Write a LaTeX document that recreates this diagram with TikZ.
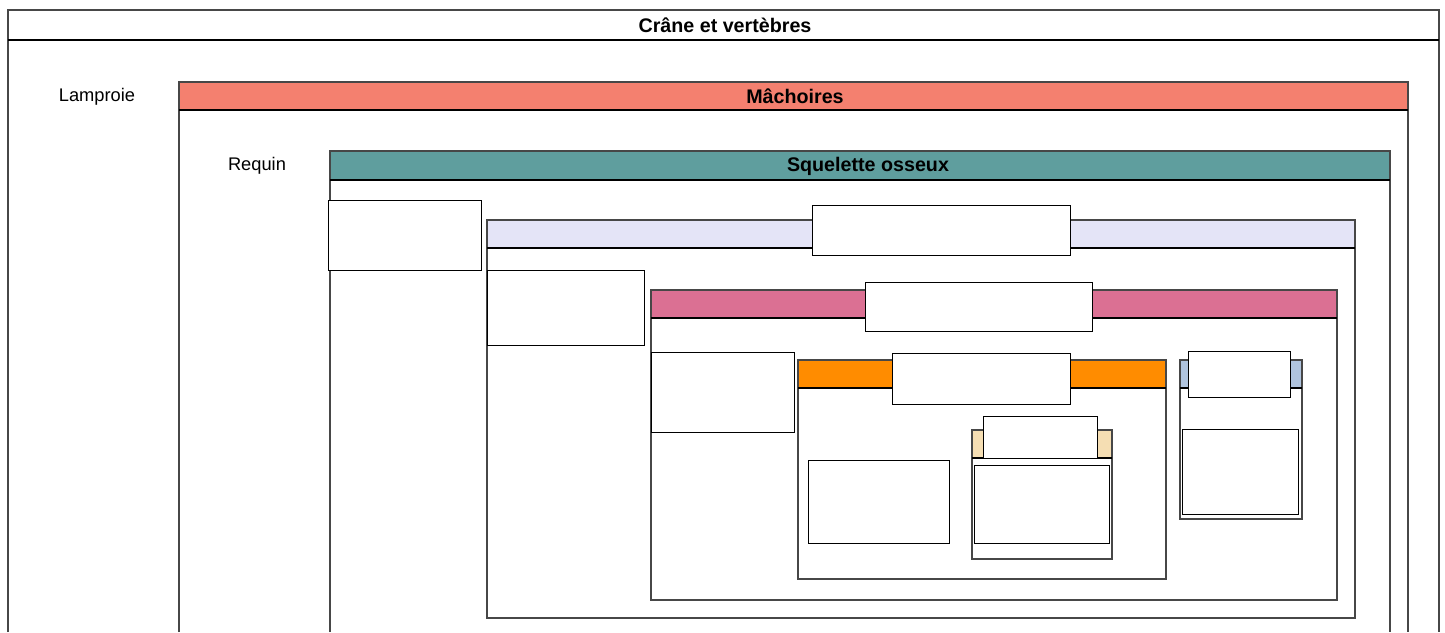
\documentclass[tikz,border=0pt]{standalone}
\usepackage{fontspec}
\setmainfont{Liberation Sans}
\usetikzlibrary{calc}
\definecolor{machoires}{HTML}{F4806F}
\definecolor{squelette}{HTML}{5F9E9E}
\definecolor{lavande}{HTML}{E4E4F7}
\definecolor{rose}{HTML}{DB7093}
\definecolor{orange}{HTML}{FF8C00}
\definecolor{ble}{HTML}{F5DEB3}
\definecolor{acier}{HTML}{B0C4DE}
\tikzset{
	frame/.style={line width=0.9pt, color=black!72},
	barline/.style={line width=1.8pt, color=black},
	blank/.style={line width=0.6pt, draw=black, fill=white},
	cladename/.style={font=\fontsize{13}{15}\selectfont},
	groupname/.style={font=\bfseries\fontsize{14}{16}\selectfont}
}

\begin{document}
\begin{tikzpicture}[x=0.025cm, y=-0.025cm]
		%%%%% START %%%%%
		\useasboundingbox (0, 0) rectangle (1445, 632);
		
		% Cr\^ane et vert\`ebres
		\draw[frame] (8, 632) -- (8, 10) -- (1439, 10) -- (1439, 632);
		\draw[barline] (8, 40) -- (1439, 40);
		\node[groupname] (crane) at (725, 25) {Crâne et vertèbres};
		\node[cladename] (lamproie) at (97, 97) {Lamproie};
		
		% M\^achoires
		\fill[machoires] (179, 82) rectangle (1408, 110);
		\draw[frame] (179, 632) -- (179, 82) -- (1408, 82) -- (1408, 632);
		\draw[barline] (179, 110) -- (1408, 110);
		\node[groupname] (machoires) at (795, 96) {Mâchoires};
		\node[cladename] (requin) at (257, 166) {Requin};
		
		% Squelette osseux
		\fill[squelette] (330, 151) rectangle (1390, 180);
		\draw[frame] (330, 632) -- (330, 151) -- (1390, 151) -- (1390, 632);
		\draw[barline] (330, 180) -- (1390, 180);
		\node[groupname] (osseux) at (868, 166) {Squelette osseux};
		
		% groupes internes
		\fill[lavande] (487, 220) rectangle (1355, 248);
		\draw[frame] (487, 220) rectangle (1355, 618);
		\draw[barline] (487, 248) -- (1355, 248);
		
		\fill[rose] (651, 290) rectangle (1337, 318);
		\draw[frame] (651, 290) rectangle (1337, 600);
		\draw[barline] (651, 318) -- (1337, 318);
		
		\fill[orange] (798, 360) rectangle (1166, 388);
		\draw[frame] (798, 360) rectangle (1166, 579);
		\draw[barline] (798, 388) -- (1166, 388);
		
		\fill[ble] (972, 430) rectangle (1112, 458);
		\draw[frame] (972, 430) rectangle (1112, 559);
		\draw[barline] (972, 458) -- (1112, 458);
		
		\fill[acier] (1180, 360) rectangle (1302, 388);
		\draw[frame] (1180, 360) rectangle (1302, 519);
		\draw[barline] (1180, 388) -- (1302, 388);
		
		% cases vides
		\draw[blank] (328, 200) rectangle (481, 270);
		\draw[blank] (812, 205) rectangle (1070, 255);
		\draw[blank] (487, 270) rectangle (644, 345);
		\draw[blank] (865, 282) rectangle (1092, 331);
		\draw[blank] (651, 352) rectangle (794, 432);
		\draw[blank] (892, 353) rectangle (1070, 404);
		\draw[blank] (808, 460) rectangle (949, 543);
		\draw[blank] (983, 416) rectangle (1097, 458);
		\draw[blank] (974, 465) rectangle (1109, 543);
		\draw[blank] (1188, 351) rectangle (1290, 397);
		\draw[blank] (1182, 429) rectangle (1298, 514);
		
		%%%%% END %%%%%
	\end{tikzpicture}
\end{document}
